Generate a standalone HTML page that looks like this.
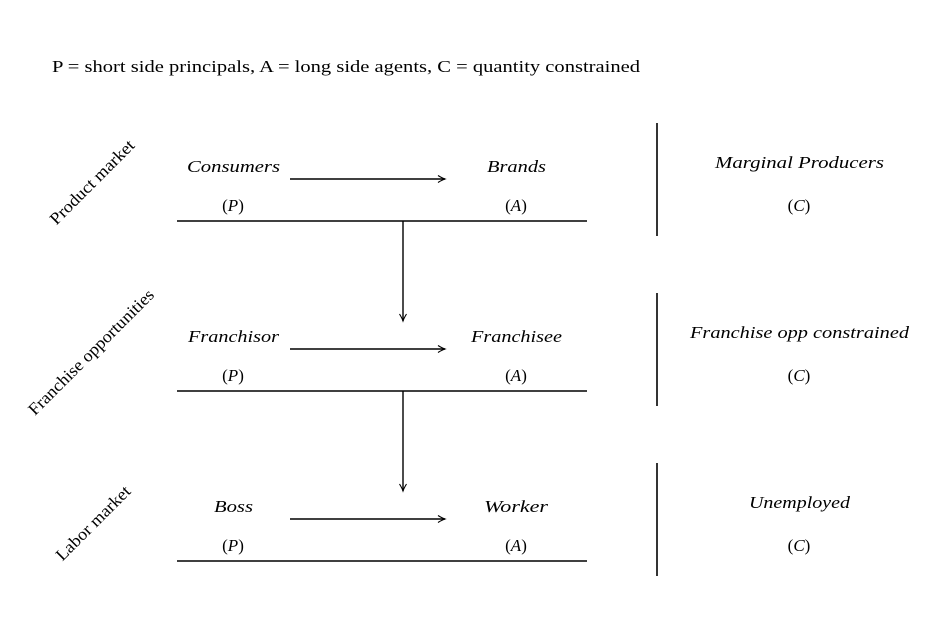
<!DOCTYPE html>
<html><head><meta charset="utf-8"><style>
html,body{margin:0;padding:0;background:#fff;}
svg{display:block;}
text{font-family:"Liberation Serif",serif;font-size:17px;fill:#000;}
.i{font-style:italic;}
</style></head><body>
<svg width="936" height="624" viewBox="0 0 936 624" xmlns="http://www.w3.org/2000/svg">
<defs>
<marker id="ah" markerWidth="10" markerHeight="10" refX="8" refY="5" orient="auto" markerUnits="userSpaceOnUse">
<path d="M1,1.5 Q5,4 8,5 Q5,6 1,8.5" fill="none" stroke="#000" stroke-width="1.1"/>
</marker>
</defs>
<text x="52" y="72" textLength="588" lengthAdjust="spacingAndGlyphs">P = short side principals, A = long side agents, C = quantity constrained</text>

<g stroke="#000" stroke-width="1.6" fill="none">
<line x1="177" y1="221" x2="587" y2="221"/>
<line x1="177" y1="391" x2="587" y2="391"/>
<line x1="177" y1="561" x2="587" y2="561"/>
<line x1="657" y1="123" x2="657" y2="236"/>
<line x1="657" y1="293" x2="657" y2="406"/>
<line x1="657" y1="463" x2="657" y2="576"/>
</g>
<g stroke="#000" stroke-width="1.4" fill="none" marker-end="url(#ah)">
<line x1="290" y1="179" x2="445" y2="179"/>
<line x1="290" y1="349" x2="445" y2="349"/>
<line x1="290" y1="519" x2="445" y2="519"/>
<line x1="403" y1="221" x2="403" y2="321"/>
<line x1="403" y1="391" x2="403" y2="491"/>
</g>

<text class="i" x="187" y="172" textLength="93" lengthAdjust="spacingAndGlyphs">Consumers</text>
<text class="i" x="487" y="172" textLength="59" lengthAdjust="spacingAndGlyphs">Brands</text>
<text class="i" x="188" y="342" textLength="91" lengthAdjust="spacingAndGlyphs">Franchisor</text>
<text class="i" x="471" y="342" textLength="91" lengthAdjust="spacingAndGlyphs">Franchisee</text>
<text class="i" x="214" y="512" textLength="39" lengthAdjust="spacingAndGlyphs">Boss</text>
<text class="i" x="484" y="512" textLength="64" lengthAdjust="spacingAndGlyphs">Worker</text>

<g text-anchor="middle">
<text x="233" y="211">(<tspan class="i">P</tspan>)</text>
<text x="516" y="211">(<tspan class="i">A</tspan>)</text>
<text x="799" y="211">(<tspan class="i">C</tspan>)</text>
<text x="233" y="381">(<tspan class="i">P</tspan>)</text>
<text x="516" y="381">(<tspan class="i">A</tspan>)</text>
<text x="799" y="381">(<tspan class="i">C</tspan>)</text>
<text x="233" y="551">(<tspan class="i">P</tspan>)</text>
<text x="516" y="551">(<tspan class="i">A</tspan>)</text>
<text x="799" y="551">(<tspan class="i">C</tspan>)</text>
</g>

<text class="i" x="715" y="168" textLength="169" lengthAdjust="spacingAndGlyphs">Marginal Producers</text>
<text class="i" x="690" y="338" textLength="219" lengthAdjust="spacingAndGlyphs">Franchise opp constrained</text>
<text class="i" x="749" y="508" textLength="101" lengthAdjust="spacingAndGlyphs">Unemployed</text>

<text transform="translate(96,186) rotate(-45)" text-anchor="middle" textLength="112" lengthAdjust="spacingAndGlyphs">Product market</text>
<text transform="translate(95,356) rotate(-45)" text-anchor="middle" textLength="170" lengthAdjust="spacingAndGlyphs">Franchise opportunities</text>
<text transform="translate(97,527) rotate(-45)" text-anchor="middle" textLength="98" lengthAdjust="spacingAndGlyphs">Labor market</text>
</svg>
</body></html>
